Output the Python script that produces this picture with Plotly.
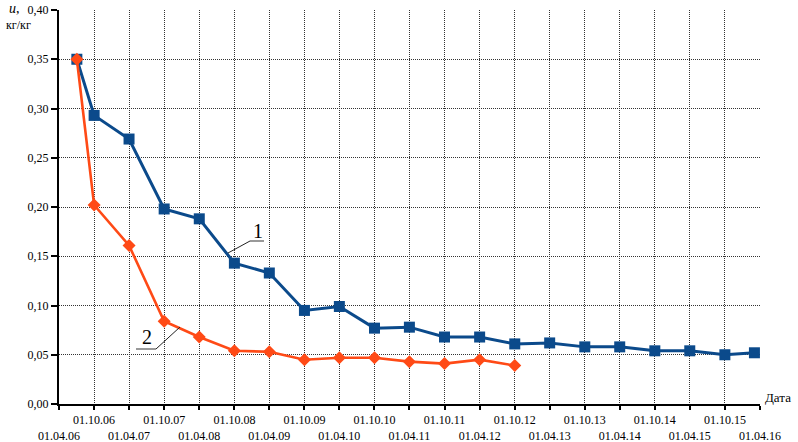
import plotly.graph_objects as go

# Half-year ticks from 01.04.06 to 01.04.16
tick_dates = []
tick_text = []
for yr in range(2006, 2017):
    for mo in (4, 10):
        if yr == 2016 and mo == 10:
            continue
        tick_dates.append(f"{yr}-{mo:02d}-01")
        lbl = f"01.{mo:02d}.{yr % 100:02d}"
        # October labels sit on the upper row, April labels on the lower one
        tick_text.append(lbl if mo == 10 else "<br>" + lbl)

# Series 1 (squares)
dates_1 = ["2006-07-03", "2006-10-01", "2007-04-01", "2007-10-01", "2008-04-01",
           "2008-10-01", "2009-04-01", "2009-10-01", "2010-04-01", "2010-10-01",
           "2011-04-01", "2011-10-01", "2012-04-01", "2012-10-01", "2013-04-01",
           "2013-10-01", "2014-04-01", "2014-10-01", "2015-04-01", "2015-10-01",
           "2016-03-03"]
u_1 = [0.350, 0.293, 0.269, 0.198, 0.188, 0.143, 0.133, 0.095, 0.099, 0.077,
       0.078, 0.068, 0.068, 0.061, 0.062, 0.058, 0.058, 0.054, 0.054, 0.050,
       0.052]

# Series 2 (diamonds)
dates_2 = ["2006-07-03", "2006-10-01", "2007-04-01", "2007-10-01", "2008-04-01",
           "2008-10-01", "2009-04-01", "2009-10-01", "2010-04-01", "2010-10-01",
           "2011-04-01", "2011-10-01", "2012-04-01", "2012-10-01"]
u_2 = [0.350, 0.202, 0.161, 0.084, 0.068, 0.054, 0.053, 0.045, 0.047, 0.047,
       0.043, 0.041, 0.045, 0.039]

y_ticks = [0.00, 0.05, 0.10, 0.15, 0.20, 0.25, 0.30, 0.35, 0.40]

BLUE = "#0b4a8b"
ORANGE = "#ff4a16"
FONT = "Liberation Serif"

W, H = 798, 442
L, R, T, B = 59, 38, 10, 38
pw, ph = W - L - R, H - T - B

fig = go.Figure()
fig.add_trace(go.Scatter(
    x=dates_1, y=u_1, mode="lines+markers",
    line=dict(color=BLUE, width=3),
    marker=dict(symbol="square", size=11, color=BLUE),
    showlegend=False,
))
fig.add_trace(go.Scatter(
    x=dates_2, y=u_2, mode="lines+markers",
    line=dict(color=ORANGE, width=2.6),
    marker=dict(symbol="diamond", size=10, color=ORANGE),
    showlegend=False,
))

fig.update_layout(
    template="none",
    width=W, height=H,
    margin=dict(l=L, r=R, t=T, b=B),
    paper_bgcolor="white", plot_bgcolor="white",
    separators=", ",
    font=dict(family=FONT, size=12, color="black"),
)

axis_common = dict(
    automargin=False,
    showgrid=True, gridcolor="#333", griddash="1px,1px", gridwidth=1,
    showline=True, linecolor="black", linewidth=2,
    ticks="outside", tickcolor="black", tickwidth=1.5,
    zeroline=False,
    tickfont=dict(family=FONT, size=12, color="black"),
)
fig.update_xaxes(
    type="date",
    range=["2006-04-01", "2016-04-01"],
    tickmode="array", tickvals=tick_dates, ticktext=tick_text,
    tickangle=0, ticklen=4,
    **axis_common,
)
fig.update_yaxes(
    range=[0, 0.40],
    tickmode="array", tickvals=y_ticks, tickformat=".2f",
    ticklen=6,
    **axis_common,
)


def px_to_paper(x, y):
    return (x - L) / pw, 1 - (y - T) / ph


# Axis captions
for text, x, y, size in [
    ("<i>u</i>,", 14, 9, 14),
    ("кг/кг", 18, 25, 12),
    ("Дата", 778, 397, 13),
]:
    px, py = px_to_paper(x, y)
    fig.add_annotation(x=px, y=py, xref="paper", yref="paper", text=text,
                       showarrow=False, font=dict(family=FONT, size=size),
                       xanchor="center", yanchor="middle")

# Series labels with leader lines
for label, tx, ty, ux0, ux1, uy, lx, ly in [
    ("1", 258, 231, 250, 264, 241, 228, 253),
    ("2", 147, 337, 136, 156, 349, 180, 327),
]:
    px, py = px_to_paper(tx, ty)
    fig.add_annotation(x=px, y=py, xref="paper", yref="paper", text=label,
                       showarrow=False, font=dict(family=FONT, size=20),
                       xanchor="center", yanchor="middle")
    a0 = px_to_paper(ux0, uy)
    a1 = px_to_paper(ux1, uy)
    fig.add_shape(type="line", xref="paper", yref="paper",
                  x0=a0[0], y0=a0[1], x1=a1[0], y1=a1[1],
                  line=dict(color="#555", width=1.2))
    start = a0 if label == "1" else a1
    end = px_to_paper(lx, ly)
    fig.add_shape(type="line", xref="paper", yref="paper",
                  x0=start[0], y0=start[1], x1=end[0], y1=end[1],
                  line=dict(color="#222", width=1))

fig.write_html("out.html")
